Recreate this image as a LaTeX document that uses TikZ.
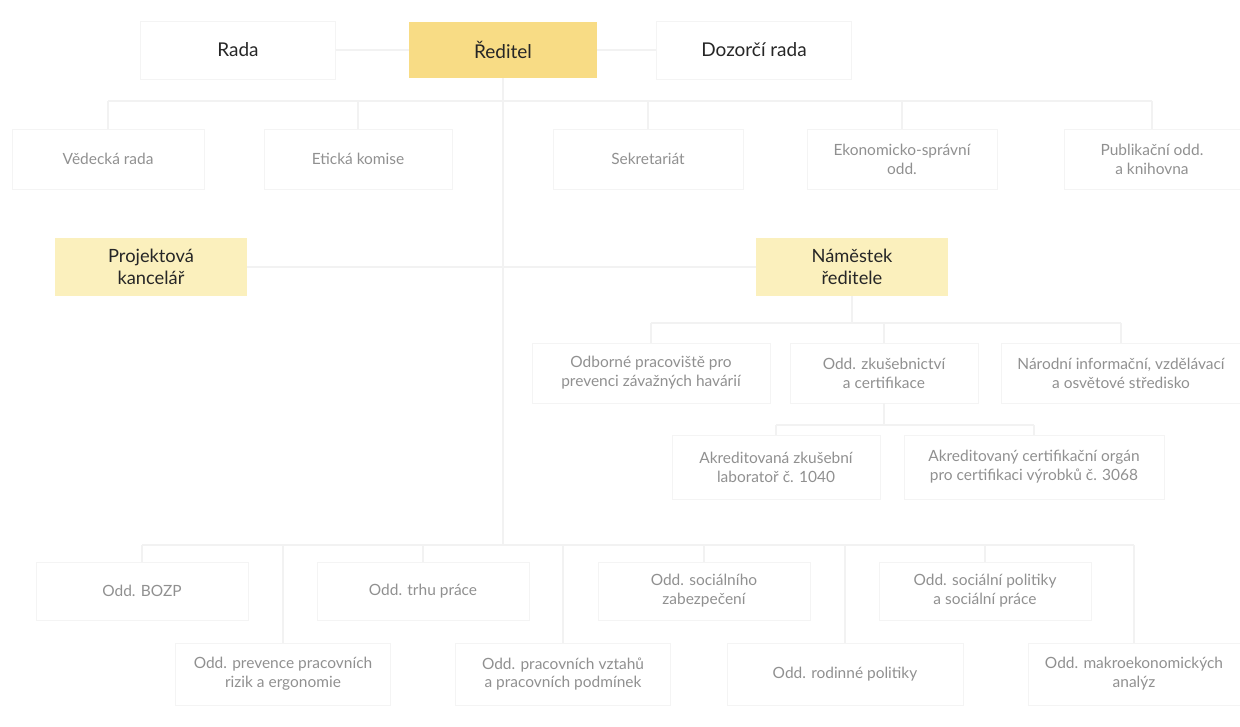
\documentclass[tikz,border=0pt]{standalone}
\usepackage{fontspec}
\setmainfont{Lato}
\usetikzlibrary{positioning}
\definecolor{headfill}{HTML}{F8DC85}
\definecolor{subfill}{HTML}{FBF0BD}
\definecolor{deptgray}{HTML}{909090}
\definecolor{linegray}{HTML}{F2F2F2}
\definecolor{boxgray}{HTML}{F4F4F4}
\tikzset{
  topbox/.style={draw=boxgray, minimum width=4.875cm, minimum height=1.45cm, font=\fontsize{13.5}{16}\selectfont, text=black!85},
  chief/.style={topbox, draw=none, fill=headfill, minimum width=4.7cm, minimum height=1.4cm},
  deputy/.style={draw=none, fill=subfill, minimum width=4.8cm, minimum height=1.45cm, align=center, font=\fontsize{13}{16}\selectfont, text=black!85},
  dept/.style={draw=boxgray, minimum height=1.5cm, align=center, font=\fontsize{11}{13.5}\selectfont, text=deptgray},
  link/.style={draw=linegray, line width=0.8pt}
}

\begin{document}
\begin{tikzpicture}[x=0.025cm, y=-0.025cm]
    \useasboundingbox (0,0) rectangle (1240,726);

    % top row
    \node[topbox] (rada) at (238,50) {Rada};
    \node[chief] (reditel) at (503,50) {Ředitel};
    \node[topbox] (dozor) at (754,50) {Dozorčí rada};

    % staff units
    \node[dept, minimum width=4.8cm] (vedecka) at (108,159) {Vědecká rada};
    \node[dept, minimum width=4.7cm] (eticka) at (358,159) {Etická komise};
    \node[dept, minimum width=4.75cm] (sekret) at (648,159) {Sekretariát};
    \node[dept, minimum width=4.75cm] (ekon) at (902,159) {Ekonomicko-správní\\odd.};
    \node[dept, minimum width=4.4cm] (publik) at (1152,159) {Publikační odd.\\a knihovna};

    % second level
    \node[deputy] (projekt) at (151,267) {Projektová\\kancelář};
    \node[deputy] (namestek) at (852,267) {Náměstek\\ředitele};

    % units under the deputy
    \node[dept, minimum width=5.95cm] (odborne) at (651,373) {Odborné pracoviště pro\\prevenci závažných havárií};
    \node[dept, minimum width=4.7cm] (zkus) at (884,373) {Odd. zkušebnictví\\a certifikace};
    \node[dept, minimum width=6cm] (narodni) at (1121,373) {Národní informační, vzdělávací\\a osvětové středisko};

    \node[dept, minimum width=5.2cm, minimum height=1.6cm] (labor) at (776,467) {Akreditovaná zkušební\\laboratoř č. 1040};
    \node[dept, minimum width=6.5cm, minimum height=1.6cm] (certorg) at (1034,467) {Akreditovaný certifikační orgán\\pro certifikaci výrobků č. 3068};

    % departments, upper row
    \node[dept, minimum width=5.3cm, minimum height=1.45cm] (bozp) at (142,591) {Odd. BOZP};
    \node[dept, minimum width=5.3cm, minimum height=1.45cm] (trh) at (423,591) {Odd. trhu práce};
    \node[dept, minimum width=5.3cm, minimum height=1.45cm] (socz) at (704,591) {Odd. sociálního\\zabezpečení};
    \node[dept, minimum width=5.3cm, minimum height=1.45cm] (socp) at (985,591) {Odd. sociální politiky\\a sociální práce};

    % departments, lower row
    \node[dept, minimum width=5.375cm, minimum height=1.55cm] (prevence) at (283,674) {Odd. prevence pracovních\\rizik a ergonomie};
    \node[dept, minimum width=5.375cm, minimum height=1.55cm] (vztahy) at (563,674) {Odd. pracovních vztahů\\a pracovních podmínek};
    \node[dept, minimum width=5.9cm, minimum height=1.55cm] (rodina) at (845,674) {Odd. rodinné politiky};
    \node[dept, minimum width=5.3cm, minimum height=1.55cm] (makro) at (1134,674) {Odd. makroekonomických\\analýz};

    % bus points
    \coordinate (trunk) at (503,545);
    \coordinate (staffbus) at (503,101);
    \coordinate (depbus) at (852,323);
    \coordinate (labbus) at (884,425);

    % connectors of the top row
    \draw[link] (rada) -- (reditel);
    \draw[link] (reditel) -- (dozor);
    \draw[link] (reditel.south) -- (trunk);

    % staff units
    \draw[link] (vedecka.north |- staffbus) -- (publik.north |- staffbus);
    \foreach \n in {vedecka,eticka,sekret,ekon,publik}
        \draw[link] (\n.north |- staffbus) -- (\n.north);

    % second level
    \draw[link] (projekt.east) -- (projekt.east -| trunk);
    \draw[link] (namestek.west) -- (namestek.west -| trunk);

    % units under the deputy
    \draw[link] (namestek.south) -- (depbus);
    \draw[link] (odborne.north |- depbus) -- (narodni.north |- depbus);
    \foreach \n in {odborne,zkus,narodni}
        \draw[link] (\n.north |- depbus) -- (\n.north);
    \draw[link] (zkus.south) -- (labbus);
    \draw[link] (labor.north |- labbus) -- (certorg.north |- labbus);
    \foreach \n in {labor,certorg}
        \draw[link] (\n.north |- labbus) -- (\n.north);

    % departments
    \draw[link] (bozp.north |- trunk) -- (makro.north |- trunk);
    \foreach \n in {bozp,trh,socz,socp,prevence,vztahy,rodina,makro}
        \draw[link] (\n.north |- trunk) -- (\n.north);
\end{tikzpicture}
\end{document}
